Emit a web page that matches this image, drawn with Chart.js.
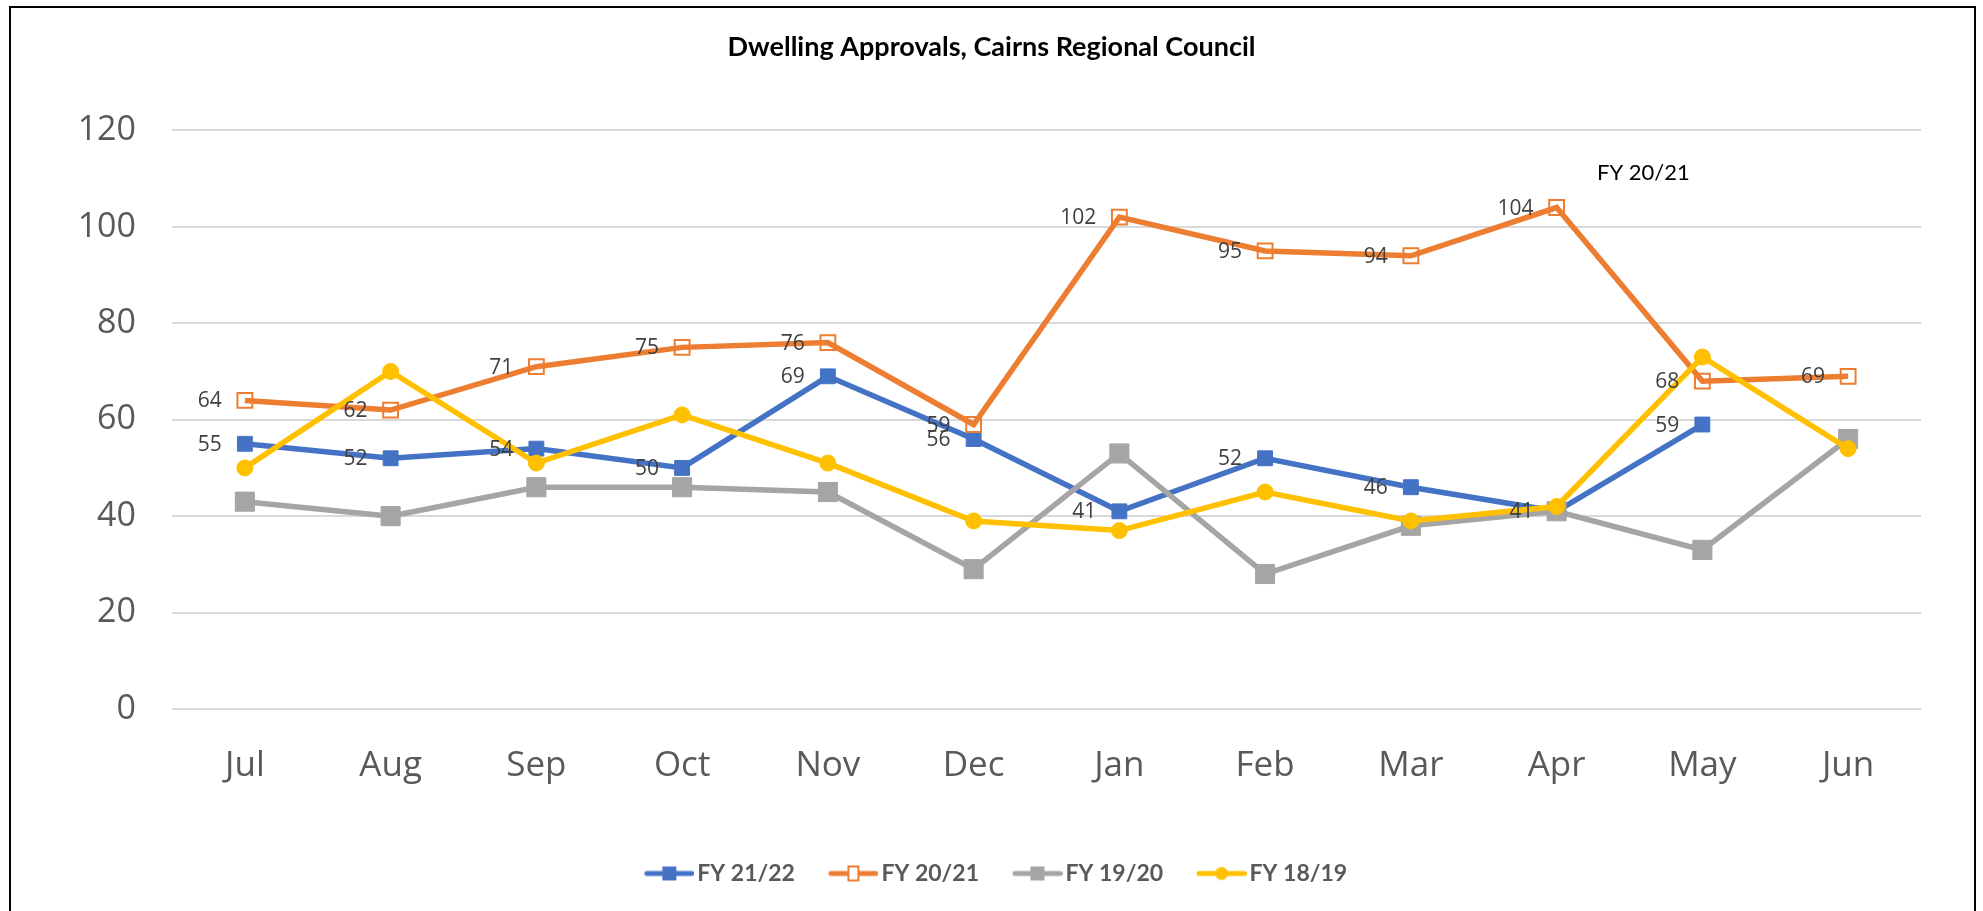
<!DOCTYPE html>
<html>
<head>
<meta charset="utf-8">
<title>Dwelling Approvals, Cairns Regional Council</title>
<script src="https://cdn.jsdelivr.net/npm/chart.js@4.4.1/dist/chart.umd.min.js"></script>
<style>
  html, body { margin: 0; padding: 0; background: #fff; overflow: hidden; }
  #wrap { position: relative; width: 1983px; height: 911px; }
  #frame {
    position: absolute; left: 9px; top: 6px; width: 1963px; height: 1000px;
    border: 2px solid #000; border-bottom: none; pointer-events: none;
  }
</style>
</head>
<body>
<div id="wrap">
  <canvas id="chart" width="1983" height="911"></canvas>
  <div id="frame"></div>
</div>
<script>
// months of the financial year
const months = ['Jul', 'Aug', 'Sep', 'Oct', 'Nov', 'Dec', 'Jan', 'Feb', 'Mar', 'Apr', 'May', 'Jun'];

// dwelling approvals per month
const fy2122 = [55, 52, 54, 50, 69, 56, 41, 52, 46, 41, 59, null];
const fy2021 = [64, 62, 71, 75, 76, 59, 102, 95, 94, 104, 68, 69];
const fy1920 = [43, 40, 46, 46, 45, 29, 53, 28, 38, 41, 33, 56];
const fy1819 = [50, 70, 51, 61, 51, 39, 37, 45, 39, 42, 73, 54];

const yTicks = [0, 20, 40, 60, 80, 100, 120];

const seriesNames = ['FY 21/22', 'FY 20/21', 'FY 19/20', 'FY 18/19'];
const colors = ['#4472C4', '#ED7D31', '#A5A5A5', '#FFC000'];

// little line+marker pictures for the legend
function makeIcon(color, marker) {
  const c = document.createElement('canvas');
  c.width = 67; c.height = 22;
  const g = c.getContext('2d');
  const x0 = 17, x1 = 67, cy = 11, cx = (x0 + x1) / 2;
  g.strokeStyle = color;
  g.lineWidth = 5;
  g.lineCap = 'round';
  g.beginPath();
  g.moveTo(x0 + 2.5, cy);
  g.lineTo(x1 - 2.5, cy);
  g.stroke();
  if (marker === 'square') {
    g.fillStyle = color;
    g.fillRect(cx - 7, cy - 7, 14, 14);
  } else if (marker === 'hollow') {
    g.fillStyle = '#fff';
    g.fillRect(cx - 5, cy - 7, 10, 14);
    g.lineWidth = 2;
    g.strokeRect(cx - 5, cy - 7, 10, 14);
  } else {
    g.fillStyle = color;
    g.beginPath();
    g.arc(cx, cy, 6.5, 0, Math.PI * 2);
    g.fill();
  }
  return c;
}

const legendIcons = [
  makeIcon(colors[0], 'square'),
  makeIcon(colors[1], 'hollow'),
  makeIcon(colors[2], 'square'),
  makeIcon(colors[3], 'circle')
];

// value labels to the left of the points
const valueLabels = {
  id: 'valueLabels',
  afterDatasetsDraw(chart) {
    const ctx = chart.ctx;
    ctx.save();
    ctx.font = '21px "Open Sans"';
    ctx.fillStyle = '#404040';
    ctx.textAlign = 'right';
    ctx.textBaseline = 'middle';
    chart.data.datasets.forEach((ds, i) => {
      if (!ds.showValues) return;
      chart.getDatasetMeta(i).data.forEach((pt, j) => {
        const v = ds.data[j];
        if (v == null) return;
        ctx.fillText(String(v), pt.x - 23, pt.y + 1);
      });
    });
    ctx.restore();
  }
};

// the loose text box in the top right
const noteText = {
  id: 'noteText',
  afterDraw(chart) {
    const ctx = chart.ctx;
    ctx.save();
    ctx.font = '22px Lato';
    ctx.fillStyle = '#000';
    ctx.textAlign = 'left';
    ctx.textBaseline = 'middle';
    ctx.fillText('FY 20/21', 1597, 173);
    ctx.restore();
  }
};

Chart.defaults.font.family = '"Open Sans"';

new Chart(document.getElementById('chart'), {
  type: 'line',
  data: {
    labels: months,
    datasets: [
      {
        label: seriesNames[0],
        data: fy2122,
        borderColor: colors[0],
        backgroundColor: colors[0],
        borderWidth: 5.5,
        pointStyle: 'rect',
        pointRadius: 10.5,
        pointBorderWidth: 1,
        showValues: true,
        order: 4
      },
      {
        label: seriesNames[1],
        data: fy2021,
        borderColor: colors[1],
        backgroundColor: 'rgba(0,0,0,0)',
        pointBorderColor: colors[1],
        borderWidth: 5.5,
        pointStyle: 'rect',
        pointRadius: 10.5,
        pointBorderWidth: 2,
        showValues: true,
        order: 3
      },
      {
        label: seriesNames[2],
        data: fy1920,
        borderColor: colors[2],
        backgroundColor: colors[2],
        borderWidth: 5.5,
        pointStyle: 'rect',
        pointRadius: 13.5,
        pointBorderWidth: 1,
        order: 2
      },
      {
        label: seriesNames[3],
        data: fy1819,
        borderColor: colors[3],
        backgroundColor: colors[3],
        borderWidth: 5.5,
        pointStyle: 'circle',
        pointRadius: 8,
        pointBorderWidth: 1,
        order: 1
      }
    ]
  },
  options: {
    responsive: false,
    animation: false,
    events: [],
    layout: { padding: { left: 0, right: 0, top: 0, bottom: 16 } },
    scales: {
      x: {
        offset: true,
        grid: { display: false, offset: true },
        border: { display: false },
        ticks: { color: '#595959', font: { size: 35 }, padding: 28 },
        afterFit: (s) => { s.height = 128; }
      },
      y: {
        min: 0,
        max: 120,
        afterBuildTicks: (s) => { s.ticks = yTicks.map((v) => ({ value: v })); },
        grid: { color: '#D9D9D9', lineWidth: 2, drawTicks: false },
        border: { display: false },
        ticks: { color: '#595959', font: { size: 34 }, padding: 36 },
        afterFit: (s) => { s.width = 172; }
      },
      yRight: {
        position: 'right',
        grid: { display: false },
        border: { display: false },
        ticks: { display: false },
        afterFit: (s) => { s.width = 62; }
      }
    },
    plugins: {
      title: {
        display: true,
        text: 'Dwelling Approvals, Cairns Regional Council',
        color: '#000',
        font: { family: 'Lato', size: 27, weight: 'bold' },
        padding: { top: 31, bottom: 67 }
      },
      legend: {
        position: 'bottom',
        labels: {
          usePointStyle: true,
          pointStyleWidth: 50,
          padding: 25,
          color: '#595959',
          font: { family: 'Lato', size: 23, weight: 'bold' },
          generateLabels: (chart) => chart.data.datasets.map((ds, i) => ({
            text: ds.label,
            pointStyle: legendIcons[i],
            fillStyle: colors[i],
            strokeStyle: colors[i],
            lineWidth: 0,
            hidden: false,
            fontColor: '#595959',
            datasetIndex: i
          }))
        }
      },
      tooltip: { enabled: false }
    }
  },
  plugins: [valueLabels, noteText]
});
</script>
</body>
</html>
